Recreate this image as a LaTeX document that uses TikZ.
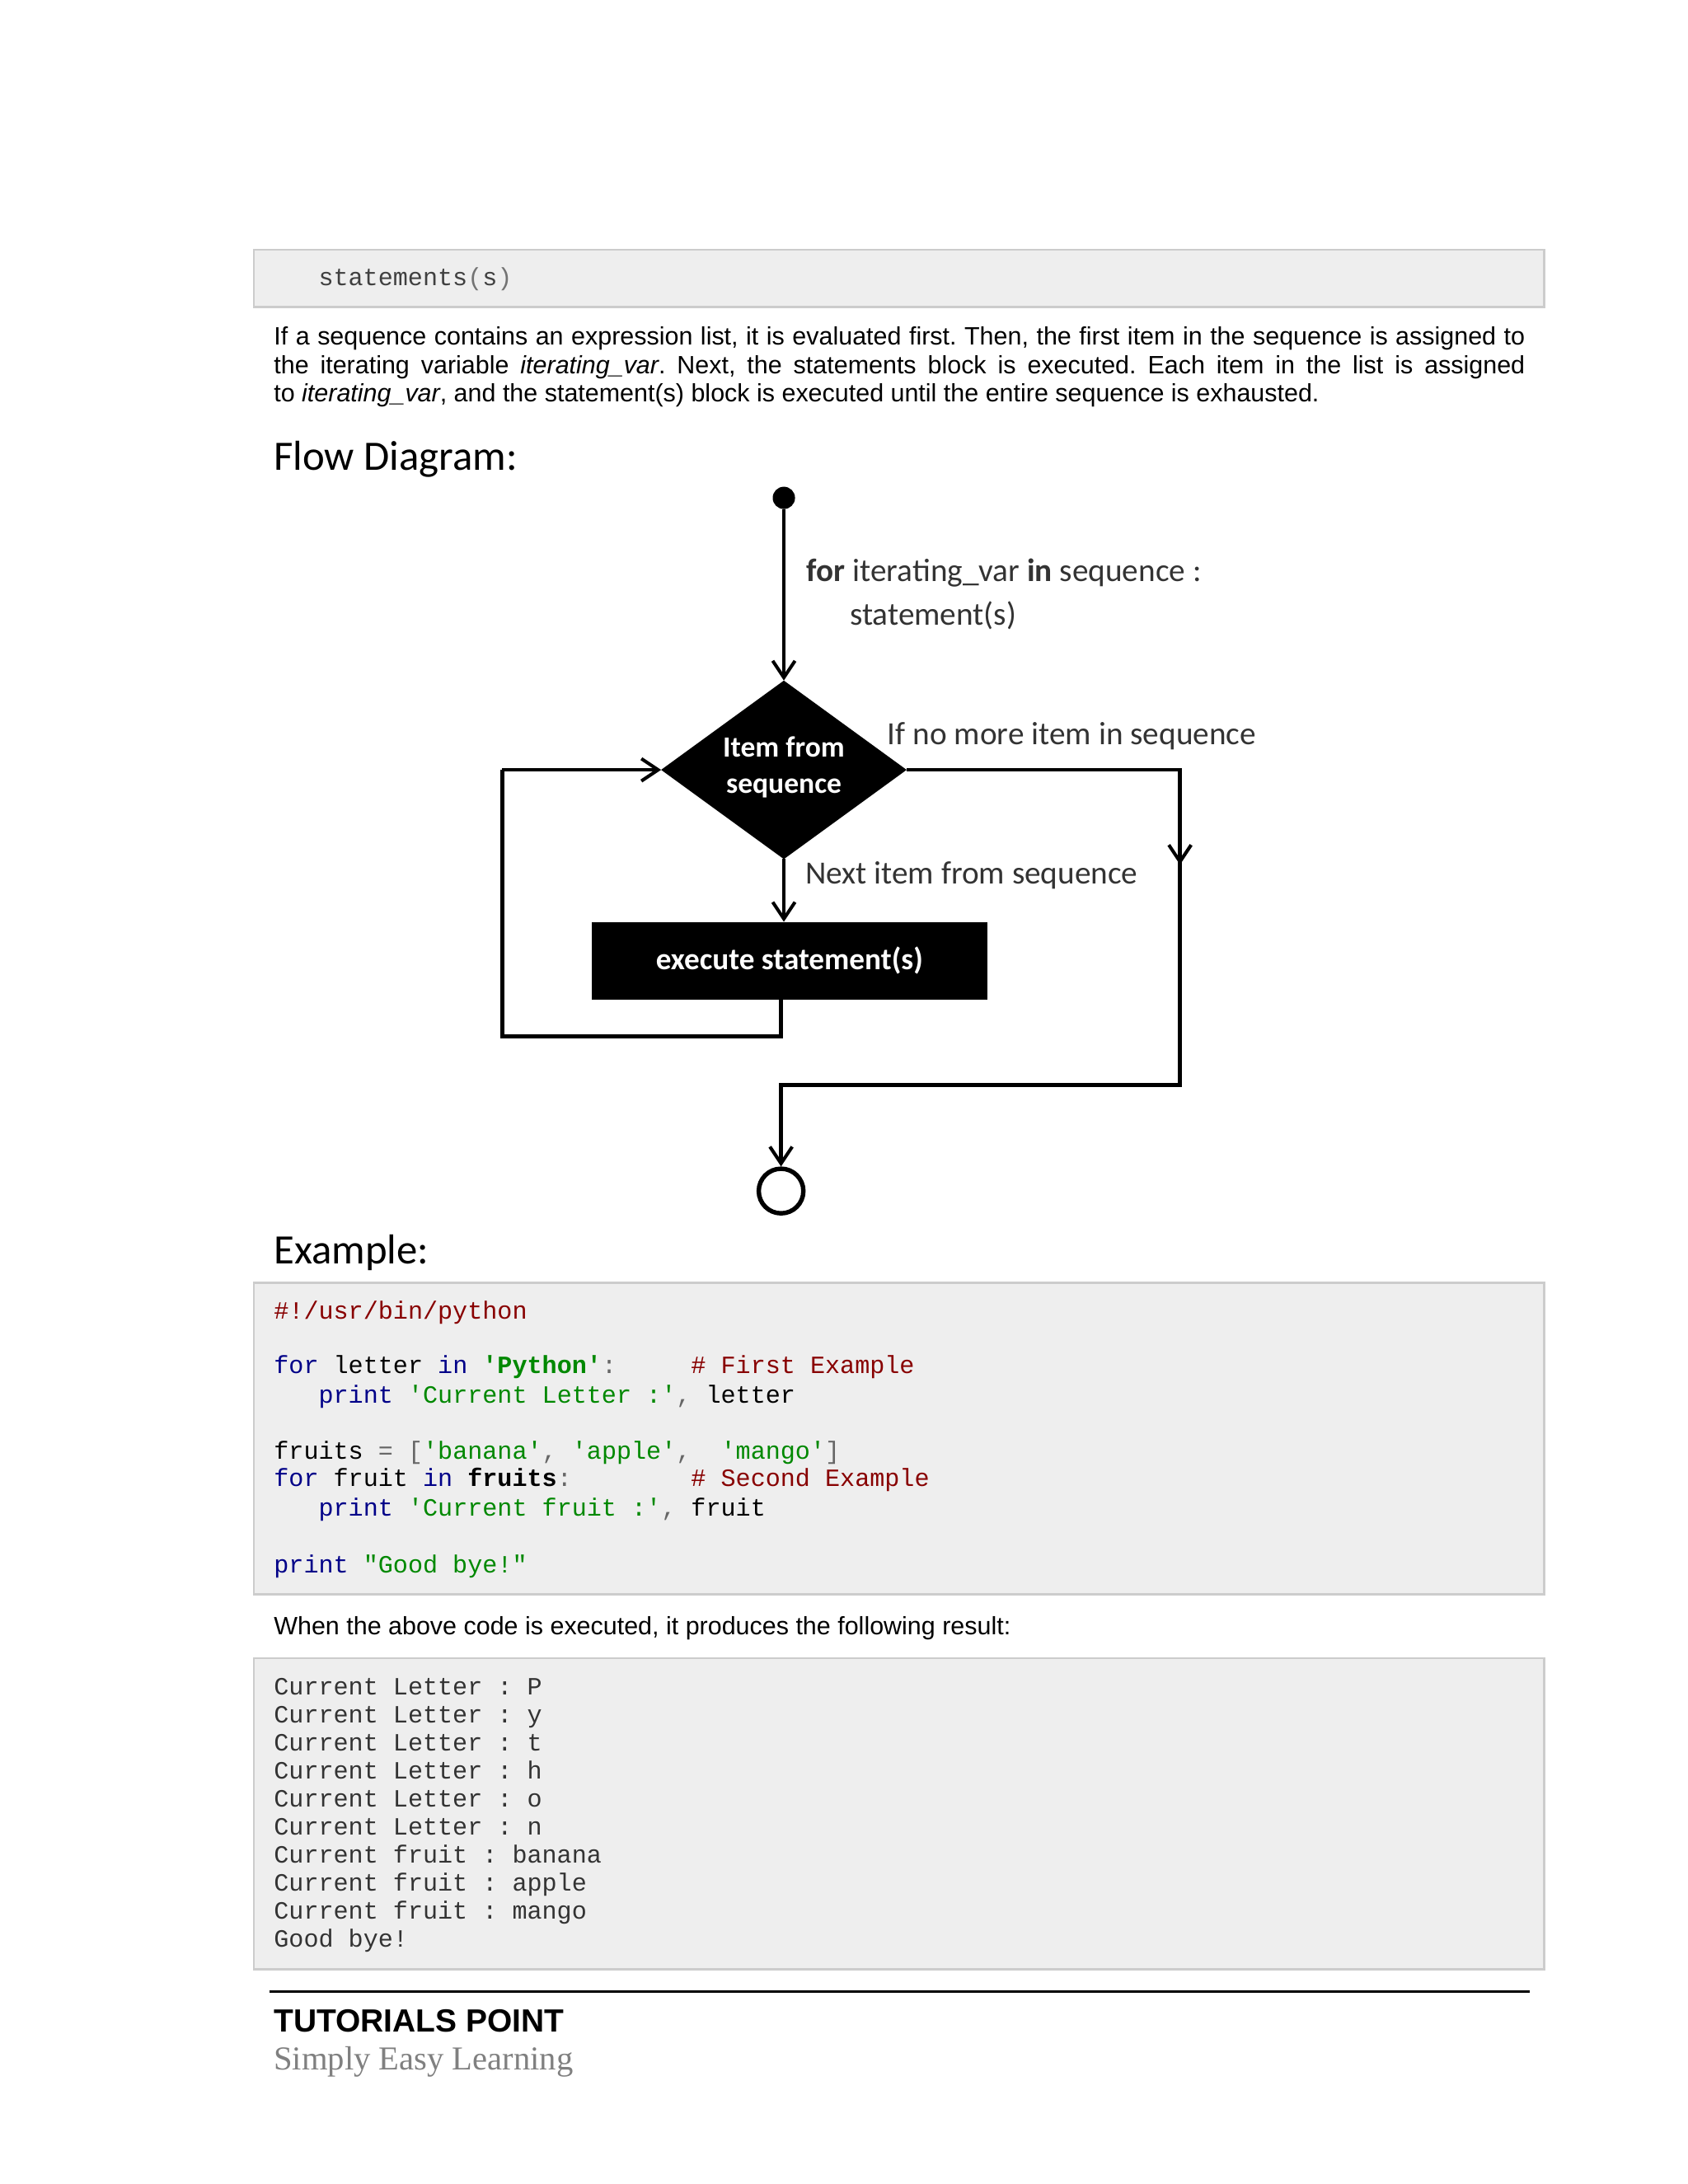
\documentclass[tikz,border=0pt]{standalone}
\usepackage{fontspec}
\setmainfont{Liberation Sans}
\setmonofont{Liberation Mono}
\newfontfamily\calfnt{Carlito}
\newfontfamily\arialfnt{Liberation Sans}
\newfontfamily\srf{Liberation Serif}
\usetikzlibrary{arrows.meta}
\definecolor{cbg}{HTML}{EEEEEE}
\definecolor{cbd}{HTML}{CCCCCC}
\definecolor{kw}{HTML}{000088}
\definecolor{st}{HTML}{008800}
\definecolor{cm}{HTML}{880000}
\tikzset{
 codebox/.style={fill=cbg,draw=cbd,line width=0.8pt},
 cl/.style={anchor=base west,inner sep=0,font=\ttfamily\fontsize{8.9}{10}\selectfont},
 para/.style={anchor=base west,inner sep=0,font=\arialfnt\fontsize{9}{10}\selectfont},
 flab/.style={anchor=base west,inner sep=0,font=\calfnt\fontsize{11.6}{13}\selectfont,text=black!80},
 flow/.style={line width=1.4pt,-{Straight Barb[length=6pt,width=8pt,line width=1.2pt]}},
 fline/.style={line width=1.4pt},
}
\begin{document}
\begin{tikzpicture}[x=0.5pt,y=-0.5pt]
\useasboundingbox (0,0) rectangle (1210,1566);
% top code box
\draw[codebox] (182,179) rectangle (1107,220);
\node[cl,text=black!75] (s0) at (228,205) {statements\textcolor{black!55}{(}s\textcolor{black!55}{)}};
\node[para,text width=448.5pt,align=justify,anchor=north west,inner sep=0,font=\arialfnt\fontsize{9}{10.2}\selectfont] (par) at (196,234) {\frenchspacing If a sequence contains an expression list, it is evaluated first. Then, the first item in the sequence is assigned to\linebreak the iterating variable \textit{iterating\_var}. Next, the statements block is executed. Each item in the list is assigned\linebreak to \textit{iterating\_var}, and the statement(s) block is executed until the entire sequence is exhausted.};
\node[anchor=base west,inner sep=0,font=\calfnt\fontsize{15}{16}\selectfont] (fd) at (196,337) {Flow Diagram:};
% flow diagram
\node[circle,fill=black,inner sep=0,minimum size=8pt] (start) at (562,357) {};
\fill[black] (562,488) -- (650,552) -- (562,616) -- (474,552) -- cycle;
\node[align=center,text=white,font=\calfnt\bfseries\fontsize{10.5}{13}\selectfont] (dtxt) at (562,550) {Item from\\sequence};
\coordinate (dtop) at (562,488);
\coordinate (dright) at (650,552);
\coordinate (dbot) at (562,616);
\coordinate (dleft) at (474,552);
\node[fill=black,minimum width=142pt,minimum height=28pt,inner sep=0,text=white,font=\calfnt\bfseries\fontsize{11}{12}\selectfont] (exec) at (566,689) {execute statement(s)};
\node[circle,draw=black,line width=1.6pt,minimum size=16pt,inner sep=0] (end) at (560,854) {};
\draw[flow] (start) -- (dtop);
\draw[flow] (dbot) -- (562,661);
\draw[fline] (560,717) -- (560,743) -- (360,743) -- (360,552);
\draw[flow] (360,552) -- (dleft);
\draw[flow] (dright) -- (846,552) -- (846,620);
\draw[flow] (846,615) -- (846,778) -- (560,778) -- (end.north);
\node[flab] (l1) at (578,417) {\textbf{for} iterating\_var \textbf{in} sequence :};
\node[flab] (l2) at (609,448) {statement(s)};
\node[flab] (l3) at (636,534) {If no more item in sequence};
\node[flab] (l4) at (577,634) {Next item from sequence};
\node[anchor=base west,inner sep=0,font=\calfnt\fontsize{15}{16}\selectfont] (ex) at (196,906) {Example:};
% code box
\draw[codebox] (182,920) rectangle (1107,1143);
\node[cl,text=cm] at (196,946) {\#!/usr/bin/python};
\node[cl] at (196,985) {\textcolor{kw}{for}~letter~\textcolor{kw}{in}~\textcolor{st}{\textbf{'Python'}}\textcolor{black!60}{:}~~~~~\textcolor{cm}{\#~First~Example}};
\node[cl] at (196,1006) {~~~\textcolor{kw}{print}~\textcolor{st}{'Current~Letter~:'}\textcolor{black!60}{,}~letter};
\node[cl] at (196,1046) {fruits~\textcolor{black!60}{=}~\textcolor{black!60}{[}\textcolor{st}{'banana'}\textcolor{black!60}{,}~\textcolor{st}{'apple'}\textcolor{black!60}{,}~~\textcolor{st}{'mango'}\textcolor{black!60}{]}};
\node[cl] at (196,1066) {\textcolor{kw}{for}~fruit~\textcolor{kw}{in}~\textbf{fruits}\textcolor{black!60}{:}~~~~~~~~\textcolor{cm}{\#~Second~Example}};
\node[cl] at (196,1087) {~~~\textcolor{kw}{print}~\textcolor{st}{'Current~fruit~:'}\textcolor{black!60}{,}~fruit};
\node[cl] at (196,1128) {\textcolor{kw}{print}~\textcolor{st}{"Good~bye!"}};
\node[para] (when) at (196,1172) {When the above code is executed, it produces the following result:};
\draw[codebox] (182,1189) rectangle (1107,1412);
\foreach \t [count=\i from 0] in {Current~Letter~:~P,Current~Letter~:~y,Current~Letter~:~t,Current~Letter~:~h,Current~Letter~:~o,Current~Letter~:~n,Current~fruit~:~banana,Current~fruit~:~apple,Current~fruit~:~mango,Good~bye!}
  \node[cl,text=black!80] at (196,{1215+20.15*\i}) {\t};
\draw[line width=1pt] (193,1428) -- (1097,1428);
\node[anchor=base west,inner sep=0,font=\arialfnt\bfseries\fontsize{11.5}{13}\selectfont] (tp) at (196,1457) {TUTORIALS POINT};
\node[anchor=base west,inner sep=0,font=\srf\fontsize{12}{13}\selectfont,text=black!50] (sel) at (196,1484) {Simply Easy Learning};
\end{tikzpicture}
\end{document}
